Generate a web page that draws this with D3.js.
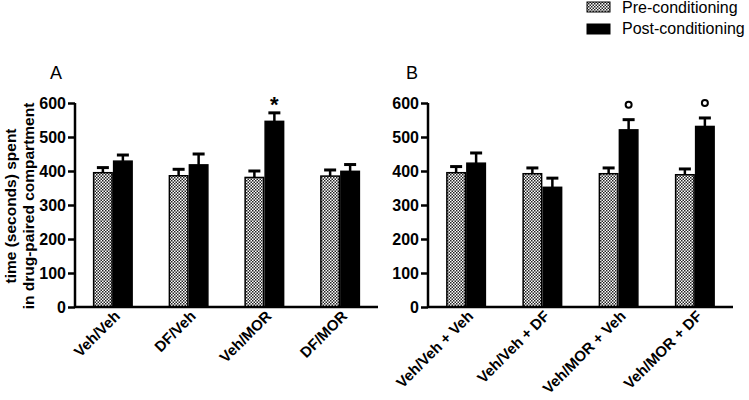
<!DOCTYPE html>
<html>
<head>
<meta charset="utf-8">
<script src="https://cdn.jsdelivr.net/npm/d3@7"></script>
<style>
  body { margin: 0; background: #fff; }
  svg { display: block; font-family: "Liberation Sans", Arial, sans-serif; }
</style>
</head>
<body>
<svg id="chart" width="749" height="400"></svg>
<script>
// ---------- data ----------
const seriesNames = ["Pre-conditioning", "Post-conditioning"];
const yTicks = [0, 100, 200, 300, 400, 500, 600];

const categoriesA = ["Veh/Veh", "DF/Veh", "Veh/MOR", "DF/MOR"];
const preA = [395, 386, 381, 385];
const preErrA = [15, 19, 19, 18];
const postA = [429, 418, 546, 399];
const postErrA = [18, 32, 25, 20];
const markA = ["", "", "*", ""];

const categoriesB = ["Veh/Veh + Veh", "Veh/Veh + DF", "Veh/MOR + Veh", "Veh/MOR + DF"];
const preB = [395, 392, 392, 389];
const preErrB = [18, 17, 17, 17];
const postB = [423, 352, 521, 531];
const postErrB = [30, 27, 30, 25];
const markB = ["", "", "o", "o"];

const yTitle = ["time (seconds) spent", "in drug-paired compartment"];

// ---------- drawing ----------
const svg = d3.select("#chart");
const defs = svg.append("defs");
const pat = defs.append("pattern").attr("id", "checker")
  .attr("patternUnits", "userSpaceOnUse").attr("width", 3).attr("height", 3);
pat.append("rect").attr("width", 3).attr("height", 3).attr("fill", "#fff");
pat.append("rect").attr("width", 1.5).attr("height", 1.5).attr("fill", "#222");
pat.append("rect").attr("x", 1.5).attr("y", 1.5).attr("width", 1.5).attr("height", 1.5).attr("fill", "#222");

const y = d3.scaleLinear().domain([0, 600]).range([307, 103]);
const FONT = "'Liberation Sans', Arial, sans-serif";

function panel(opts) {
  const { cats, pre, preErr, post, postErr, marks, x0, x1, label, labelX } = opts;
  const g = svg.append("g");
  const x = d3.scaleBand().domain(cats).range([x0, x1]);
  const xs = d3.scaleBand().domain(seriesNames).range([-20, 20]);

  const rows = [];
  cats.forEach((c, i) => {
    rows.push({ c, s: seriesNames[0], v: pre[i], e: preErr[i] });
    rows.push({ c, s: seriesNames[1], v: post[i], e: postErr[i] });
  });

  const cx = d => x(d.c) + x.bandwidth() / 2 + xs(d.s);

  // error bars (upward only)
  const eb = g.selectAll(".eb").data(rows).join("g");
  eb.append("line")
    .attr("x1", d => cx(d) + xs.bandwidth() / 2).attr("x2", d => cx(d) + xs.bandwidth() / 2)
    .attr("y1", d => y(d.v)).attr("y2", d => y(d.v + d.e))
    .attr("stroke", "#000").attr("stroke-width", 2.5);
  eb.append("line")
    .attr("x1", d => cx(d) + xs.bandwidth() / 2 - 6).attr("x2", d => cx(d) + xs.bandwidth() / 2 + 6)
    .attr("y1", d => y(d.v + d.e)).attr("y2", d => y(d.v + d.e))
    .attr("stroke", "#000").attr("stroke-width", 3);

  // bars
  g.selectAll(".bar").data(rows).join("rect")
    .attr("x", d => cx(d) + 0.75)
    .attr("y", d => y(d.v))
    .attr("width", xs.bandwidth() - 1.5)
    .attr("height", d => y(0) - y(d.v))
    .attr("fill", d => d.s === seriesNames[0] ? "url(#checker)" : "#000")
    .attr("stroke", "#000").attr("stroke-width", 1.5);

  // significance marks
  cats.forEach((c, i) => {
    if (!marks[i]) return;
    const px = x(c) + x.bandwidth() / 2 + xs(seriesNames[1]) + xs.bandwidth() / 2;
    const top = y(post[i] + postErr[i]);
    if (marks[i] === "o") {
      g.append("circle").attr("cx", px).attr("cy", top - 15).attr("r", 3)
        .attr("fill", "none").attr("stroke", "#000").attr("stroke-width", 2);
    } else {
      g.append("text").attr("x", px).attr("y", top - 1)
        .attr("text-anchor", "middle").attr("font-size", 22).attr("font-weight", "bold")
        .text(marks[i]);
    }
  });

  // axes
  const yAxis = d3.axisLeft(y).tickValues(yTicks).tickSize(7).tickPadding(2).tickSizeOuter(0);
  const ya = g.append("g").attr("transform", `translate(${x0},0)`).call(yAxis);
  ya.select(".domain").attr("stroke-width", 2.5).attr("d", `M0,${y(0)}V${y(600)}`);
  ya.selectAll(".tick line").attr("stroke-width", 2.5);
  ya.selectAll(".tick text").attr("font-size", 16).attr("font-weight", "bold")
    .attr("fill", "#000").attr("font-family", FONT);

  const xAxis = d3.axisBottom(x).tickSize(0).tickPadding(0).tickSizeOuter(0);
  const xa = g.append("g").attr("transform", `translate(0,${y(0)})`).call(xAxis);
  xa.select(".domain").attr("stroke-width", 2.5).attr("d", `M${x0},0H${x1}`);
  xa.selectAll(".tick text")
    .attr("font-size", 15).attr("font-weight", "bold").attr("fill", "#000")
    .attr("font-family", FONT)
    .attr("text-anchor", "end").attr("dy", null).attr("y", null)
    .attr("transform", "translate(8,10) rotate(-45)");

  svg.append("text").attr("x", labelX).attr("y", 79).attr("font-size", 18).text(label);
}

panel({ cats: categoriesA, pre: preA, preErr: preErrA, post: postA, postErr: postErrA,
        marks: markA, x0: 75, x1: 378, label: "A", labelX: 50 });
panel({ cats: categoriesB, pre: preB, preErr: preErrB, post: postB, postErr: postErrB,
        marks: markB, x0: 428, x1: 733, label: "B", labelX: 406 });

// y title
const yt = svg.append("text").attr("transform", "translate(0,206) rotate(-90)")
  .attr("text-anchor", "middle").attr("font-size", 15.5).attr("font-weight", "bold");
yt.append("tspan").attr("x", 0).attr("y", 16).text(yTitle[0]);
yt.append("tspan").attr("x", 0).attr("y", 34).text(yTitle[1]);

// legend
const leg = svg.append("g");
seriesNames.forEach((s, i) => {
  leg.append("rect").attr("x", 587).attr("y", 2 + i * 22).attr("width", 23).attr("height", 10)
    .attr("fill", i === 0 ? "url(#checker)" : "#000").attr("stroke", "#000").attr("stroke-width", 1);
  leg.append("text").attr("x", 622).attr("y", 13 + i * 21).attr("font-size", 16).text(s);
});
</script>
</body>
</html>
